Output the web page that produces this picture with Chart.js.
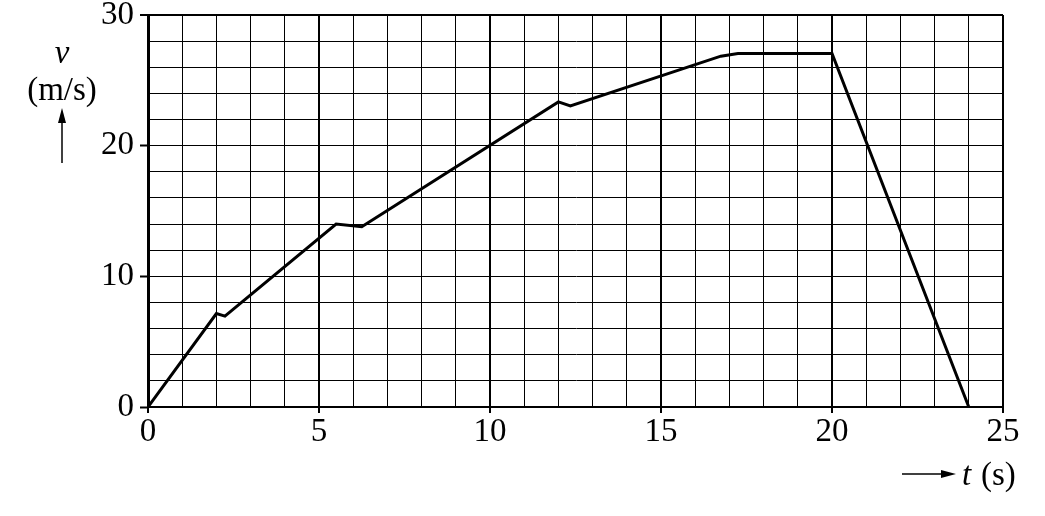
<!DOCTYPE html>
<html>
<head>
<meta charset="utf-8">
<script src="https://cdn.jsdelivr.net/npm/chart.js@4"></script>
<style>
  html, body { margin: 0; padding: 0; background: #fff; }
  #wrap { width: 1045px; height: 516px; }
</style>
</head>
<body>
<div id="wrap"><canvas id="vtChart" width="1045" height="516"></canvas></div>
<script>
// t (s) and v (m/s)
const timeValues = [0, 2.0, 2.25, 5.5, 6.25, 12.0, 12.35, 16.75, 17.25, 20.0, 24.0];
const speedValues = [0, 7.15, 6.95, 14.0, 13.8, 23.35, 23.05, 26.85, 27.05, 27.05, 0];
const xTickLabels = [0, 5, 10, 15, 20, 25];
const yTickLabels = [0, 10, 20, 30];

const serif = "'Liberation Serif', 'DejaVu Serif', serif";

const points = timeValues.map((t, i) => ({ x: t, y: speedValues[i] }));

// axis titles with their little arrows
const axisTitles = {
  id: "axisTitles",
  afterDraw(chart) {
    const c = chart.ctx;
    c.save();
    c.fillStyle = "#000";
    c.strokeStyle = "#000";
    c.textAlign = "center";
    c.textBaseline = "alphabetic";

    c.font = "italic 33px " + serif;
    c.fillText("v", 62, 63);
    c.font = "33px " + serif;
    c.fillText("(m/s)", 62, 100);

    // up arrow
    c.lineWidth = 1.5;
    c.beginPath();
    c.moveTo(62, 163);
    c.lineTo(62, 118);
    c.stroke();
    c.beginPath();
    c.moveTo(62, 108);
    c.lineTo(58, 123);
    c.lineTo(66, 123);
    c.closePath();
    c.fill();

    // right arrow
    c.beginPath();
    c.moveTo(902, 474);
    c.lineTo(945, 474);
    c.stroke();
    c.beginPath();
    c.moveTo(956, 474);
    c.lineTo(941, 470);
    c.lineTo(941, 478);
    c.closePath();
    c.fill();

    c.textAlign = "left";
    c.font = "italic 33px " + serif;
    c.fillText("t", 962, 485);
    c.font = "33px " + serif;
    c.fillText("(s)", 981, 485);
    c.restore();
  },
};

const ctx = document.getElementById("vtChart").getContext("2d");

new Chart(ctx, {
  type: "line",
  data: {
    datasets: [
      {
        data: points,
        borderColor: "#000",
        borderWidth: 3,
        pointRadius: 0,
        tension: 0,
        fill: false,
      },
    ],
  },
  options: {
    responsive: false,
    animation: false,
    layout: { padding: { left: 0, top: 15, right: 42, bottom: 0 } },
    plugins: {
      legend: { display: false },
      tooltip: { enabled: false },
    },
    scales: {
      x: {
        type: "linear",
        min: 0,
        max: 25,
        afterFit: (scale) => {
          scale.height = 109;
          scale.paddingLeft = 0;
          scale.paddingRight = 0;
        },
        ticks: {
          stepSize: 1,
          autoSkip: false,
          maxRotation: 0,
          padding: 0,
          color: "#000",
          font: { family: serif, size: 33 },
          callback: (v) => (xTickLabels.includes(v) ? String(v) : ""),
        },
        grid: {
          color: "#000",
          lineWidth: (c) => (c.tick && c.tick.value % 5 === 0 ? 2 : 1),
          tickLength: 6,
          tickColor: (c) =>
            c.tick && xTickLabels.includes(c.tick.value) ? "#000" : "rgba(0,0,0,0)",
          tickWidth: 2,
        },
        border: { display: true, color: "#000", width: 2 },
      },
      y: {
        type: "linear",
        min: 0,
        max: 30,
        afterFit: (scale) => {
          scale.width = 148;
          scale.paddingTop = 0;
          scale.paddingBottom = 0;
        },
        ticks: {
          stepSize: 2,
          autoSkip: false,
          padding: 6,
          color: "#000",
          font: { family: serif, size: 33, lineHeight: 1 },
          callback: (v) => (yTickLabels.includes(v) ? String(v) : ""),
        },
        grid: {
          color: "#000",
          lineWidth: (c) => (c.tick && c.tick.value === 30 ? 2 : 1),
          tickLength: 8,
          tickColor: (c) =>
            c.tick && yTickLabels.includes(c.tick.value) ? "#000" : "rgba(0,0,0,0)",
          tickWidth: 2,
        },
        border: { display: true, color: "#000", width: 3 },
      },
    },
  },
  plugins: [axisTitles],
});
</script>
</body>
</html>
